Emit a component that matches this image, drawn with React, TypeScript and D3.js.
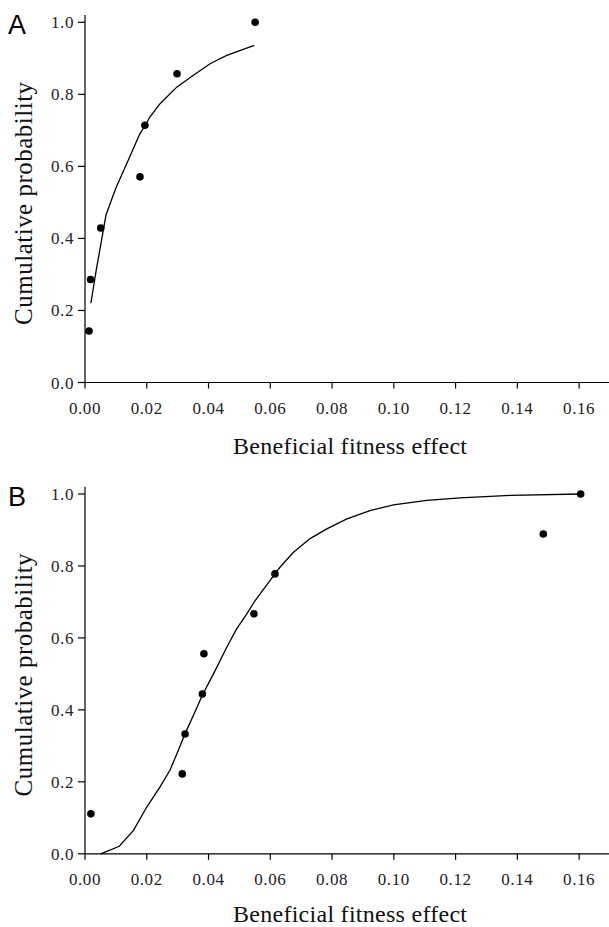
import React from "react";
import * as d3 from "d3";

// Panel A data
const pointsAX = [0.0013, 0.0018, 0.0051, 0.0178, 0.0194, 0.0298, 0.0551];
const pointsAY = [0.143, 0.286, 0.429, 0.571, 0.714, 0.857, 1.0];
const curveAX = [0.0019, 0.0036, 0.0068, 0.01, 0.014, 0.0178, 0.0194, 0.021, 0.0243, 0.0297, 0.0351, 0.0405, 0.0459, 0.0548];
const curveAY = [0.22, 0.31, 0.465, 0.54, 0.617, 0.691, 0.712, 0.737, 0.774, 0.82, 0.853, 0.885, 0.908, 0.936];

// Panel B data
const pointsBX = [0.0019, 0.0315, 0.0324, 0.038, 0.0385, 0.0547, 0.0615, 0.1484, 0.1605];
const pointsBY = [0.111, 0.222, 0.333, 0.444, 0.556, 0.667, 0.778, 0.889, 1.0];
const curveBX = [0.0051, 0.0111, 0.0157, 0.02, 0.0243, 0.0275, 0.0302, 0.0324, 0.0356, 0.0381, 0.0416, 0.0459, 0.0491, 0.0524, 0.0551, 0.0615, 0.0632, 0.0675, 0.0729, 0.0783, 0.0848, 0.0923, 0.0999, 0.1107, 0.1215, 0.1377, 0.1603];
const curveBY = [0.0, 0.021, 0.065, 0.13, 0.186, 0.232, 0.287, 0.334, 0.394, 0.443, 0.5, 0.574, 0.625, 0.667, 0.704, 0.778, 0.797, 0.838, 0.876, 0.903, 0.931, 0.954, 0.97, 0.982, 0.989, 0.996, 1.0];

const xTicks = [0, 0.02, 0.04, 0.06, 0.08, 0.1, 0.12, 0.14, 0.16];
const yTicks = [0, 0.2, 0.4, 0.6, 0.8, 1.0];
const panelLetters = ["A", "B"];
const xTitle = "Beneficial fitness effect";
const yTitle = "Cumulative probability";

const serif = "Liberation Serif, serif";
const sans = "Liberation Sans, sans-serif";

type PanelProps = {
  letter: string;
  y0: number;
  y1: number;
  px: number[];
  py: number[];
  cx: number[];
  cy: number[];
  titleOffset: number;
};

function Panel({ letter, y0, y1, px, py, cx, cy, titleOffset }: PanelProps) {
  const x = d3.scaleLinear().domain([0, 0.17]).range([85, 610]);
  const y = d3.scaleLinear().domain([0, 1]).range([y0, y1]);
  const line = d3
    .line<number>()
    .x((_, i) => x(cx[i]))
    .y((d) => y(d));
  const yTop = y(1.02);
  const yCenter = (y(0) + y(1)) / 2 + 1;
  const tickStyle = { fontFamily: serif, fontSize: "17px", letterSpacing: "0.6px" };
  return (
    <g>
      <text x={8} y={y(1) + 12} style={{ fontFamily: sans, fontSize: "27px" }} fill="#000">
        {letter}
      </text>
      <line x1={x(0)} x2={x(0)} y1={yTop} y2={y(0)} stroke="#000" strokeWidth={1.2} />
      <line x1={x(0)} x2={x(0.17)} y1={y(0)} y2={y(0)} stroke="#000" strokeWidth={1.2} />
      {xTicks.map((t) => (
        <g key={"x" + t}>
          <line x1={x(t)} x2={x(t)} y1={y(0)} y2={y(0) + 6} stroke="#000" strokeWidth={1.2} />
          <text x={x(t)} y={y(0) + 31} textAnchor="middle" style={tickStyle} fill="#222">
            {t.toFixed(2)}
          </text>
        </g>
      ))}
      {yTicks.map((t) => (
        <g key={"y" + t}>
          <line x1={x(0) - 7} x2={x(0)} y1={y(t)} y2={y(t)} stroke="#000" strokeWidth={1.2} />
          <text x={x(0) - 11} y={y(t) + 6} textAnchor="end" style={tickStyle} fill="#222">
            {t.toFixed(1)}
          </text>
        </g>
      ))}
      <text
        x={350}
        y={y(0) + titleOffset}
        textAnchor="middle"
        style={{ fontFamily: serif, fontSize: "24px" }}
        textLength={234}
        lengthAdjust="spacing"
        fill="#111"
      >
        {xTitle}
      </text>
      <text
        transform={`translate(32,${yCenter}) rotate(-90)`}
        textAnchor="middle"
        style={{ fontFamily: serif, fontSize: "25px" }}
        textLength={243}
        lengthAdjust="spacing"
        fill="#111"
      >
        {yTitle}
      </text>
      <path d={line(cy) || ""} fill="none" stroke="#000" strokeWidth={1.3} />
      {px.map((v, i) => (
        <circle key={i} cx={x(v)} cy={y(py[i])} r={3.8} fill="#000" />
      ))}
    </g>
  );
}

export default function App() {
  return (
    <svg width={609} height={927} style={{ position: "absolute", left: 0, top: 0, background: "#fff" }}>
      <rect width={609} height={927} fill="#fff" />
      <Panel letter={panelLetters[0]} y0={382.5} y1={22.3} px={pointsAX} py={pointsAY} cx={curveAX} cy={curveAY} titleOffset={71} />
      <Panel letter={panelLetters[1]} y0={853.8} y1={494} px={pointsBX} py={pointsBY} cx={curveBX} cy={curveBY} titleOffset={68} />
    </svg>
  );
}
